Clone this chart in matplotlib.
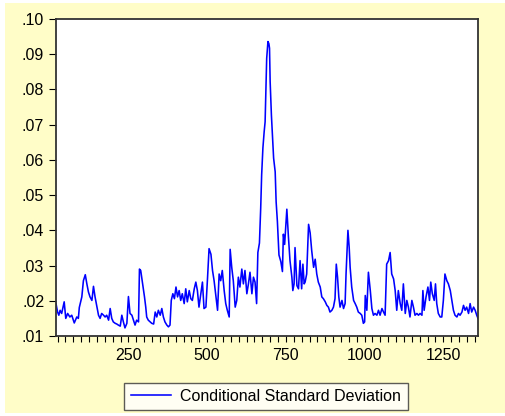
import numpy as np
import matplotlib.pyplot as plt
from matplotlib.patches import Rectangle
from matplotlib.ticker import MultipleLocator, FuncFormatter

obs = [20, 25, 29, 33, 38, 46, 51, 57, 64, 70, 78, 86, 91, 94, 102, 107, 113, 118,
       123, 128, 134, 139, 144, 150, 155, 160, 165, 171, 176, 181, 187, 192, 197,
       202, 208, 213, 218, 224, 229, 234, 239, 245, 250, 255, 261, 266, 271, 276,
       282, 285, 289, 295, 301, 305, 308, 313, 319, 324, 330, 335, 340, 345, 351,
       356, 361, 366, 372, 377, 382, 386, 391, 396, 401, 406, 411, 416, 421, 427,
       432, 437, 443, 448, 453, 459, 464, 469, 474, 480, 485, 490, 496, 501, 506,
       512, 517, 522, 527, 533, 538, 543, 548, 554, 559, 564, 570, 573, 578, 583,
       589, 594, 599, 604, 610, 615, 620, 626, 631, 636, 642, 647, 652, 657, 661,
       666, 670, 673, 677, 681, 684, 687, 689, 693, 696, 698, 700, 704,
       711, 716, 719, 723, 728, 734, 739, 742, 746, 753, 758, 763, 769, 772, 776,
       779, 785, 790, 795, 800, 804, 808, 811, 816, 822, 827, 832, 838, 843, 848,
       853, 859, 864, 869, 875, 880, 885, 890, 896, 901, 906, 910, 914, 918, 922,
       928, 933, 938, 941, 947, 951, 954, 959, 965, 970, 975, 980, 986, 991, 996,
       1000, 1002, 1007, 1012, 1018, 1023, 1028, 1033, 1039, 1044, 1049, 1055,
       1060, 1065, 1070, 1076, 1081, 1086, 1092, 1097, 1102, 1107, 1113, 1118,
       1123, 1129, 1134, 1139, 1144, 1150, 1155, 1160, 1166, 1171, 1176, 1182,
       1185, 1189, 1195, 1201, 1206, 1210, 1215, 1221, 1225, 1229, 1234, 1240,
       1245, 1250, 1255, 1261, 1266, 1272, 1277, 1282, 1287, 1293, 1298, 1303,
       1309, 1314, 1319, 1324, 1330, 1335, 1340, 1346, 1351, 1356, 1360]
csd = [.0192, .0168, .0159, .0173, .0164, .0197, .0150, .0164, .0154, .0159, .0137,
       .0154, .0150, .0181, .0211, .0257, .0274, .0248, .0225, .0211, .0201, .0241,
       .0211, .0182, .0159, .0150, .0164, .0159, .0154, .0159, .0145, .0178, .0150,
       .0140, .0136, .0134, .0131, .0128, .0159, .0140, .0123, .0136, .0212, .0164,
       .0159, .0145, .0131, .0145, .0140, .0290, .0286, .0248, .0211, .0182, .0154,
       .0145, .0140, .0136, .0134, .0168, .0154, .0173, .0159, .0178, .0154, .0140,
       .0131, .0126, .0131, .0201, .0220, .0206, .0239, .0211, .0229, .0201, .0220,
       .0192, .0234, .0197, .0229, .0206, .0201, .0234, .0253, .0229, .0182, .0220,
       .0253, .0178, .0182, .0262, .0348, .0332, .0286, .0257, .0220, .0173, .0276,
       .0257, .0286, .0229, .0192, .0173, .0154, .0346, .0295, .0257, .0182, .0201,
       .0267, .0239, .0290, .0248, .0286, .0220, .0248, .0281, .0220, .0267, .0253,
       .0192, .0337, .0364, .0463, .0557, .0634, .0680, .0708, .0822, .0888, .0936,
       .0930, .0917, .0822, .0727,
       .0605, .0566, .0481, .0425, .0330,
       .0311, .0283, .0389, .0360, .0460, .0382, .0314, .0267, .0229, .0248, .0351,
       .0243, .0234, .0314, .0234, .0304, .0248, .0253, .0276, .0417, .0393, .0342,
       .0295, .0318, .0276, .0253, .0239, .0211, .0206, .0197, .0187, .0182, .0168,
       .0173, .0182, .0206, .0304, .0267, .0211, .0182, .0201, .0178, .0192, .0276,
       .0400, .0351, .0295, .0239, .0201, .0192, .0182, .0168, .0164, .0159, .0136,
       .0140, .0215, .0173, .0281, .0229, .0178, .0159, .0164, .0159, .0173, .0159,
       .0178, .0168, .0159, .0304, .0314, .0337, .0276, .0262, .0229, .0173, .0229,
       .0192, .0173, .0248, .0164, .0201, .0182, .0154, .0201, .0182, .0159, .0164,
       .0159, .0164, .0159, .0229, .0173, .0211, .0239, .0201, .0253, .0220, .0201,
       .0248, .0192, .0164, .0154, .0154, .0201, .0276, .0257, .0248, .0229, .0201,
       .0173, .0159, .0154, .0164, .0159, .0168, .0187, .0173, .0182, .0164, .0192,
       .0168, .0182, .0173, .0159, .0150]

y_ticks = [.01, .02, .03, .04, .05, .06, .07, .08, .09, .10]
x_ticks = [250, 500, 750, 1000, 1250]

plt.rcParams['font.family'] = ['Liberation Sans', 'DejaVu Sans']

fig = plt.figure(figsize=(5.05, 4.16), dpi=100, facecolor='white')
# pale yellow frame behind everything
fig.patches.append(Rectangle((5 / 505, 3 / 416), 1, 410 / 416, transform=fig.transFigure,
                             facecolor='#FFFDC8', edgecolor='none', zorder=-5))

ax = fig.add_axes([56 / 505, 1 - 336 / 416, 422 / 505, 317 / 416])
ax.set_facecolor('white')
line, = ax.plot(obs, csd, color='#0000FF', lw=1.15, label='Conditional Standard Deviation')

ax.set_xlim(20, 1360)
ax.set_ylim(0.01, 0.10)
ax.set_yticks(y_ticks)
ax.yaxis.set_major_formatter(FuncFormatter(lambda v, p: ('%.2f' % v)[1:]))
ax.set_xticks(x_ticks)
ax.xaxis.set_minor_locator(MultipleLocator(25))
ax.tick_params(axis='both', direction='out', labelsize=11.5, colors='black')
ax.tick_params(axis='y', length=5, width=0.8)
ax.tick_params(axis='x', which='both', length=4, width=0.8)
ax.tick_params(axis='x', pad=5)
for s in ax.spines.values():
    s.set_color('#333333')
    s.set_linewidth(1.3)

leg = fig.legend(handles=[line], loc='center', bbox_to_anchor=(266 / 505, 1 - 396.5 / 416),
                 fontsize=11.5, frameon=True, fancybox=False, handlelength=2.5,
                 borderpad=0.4, handletextpad=0.6)
leg.get_frame().set_edgecolor('#333333')
leg.get_frame().set_linewidth(1.0)

fig.savefig('out.png', dpi=100, facecolor=fig.get_facecolor())
